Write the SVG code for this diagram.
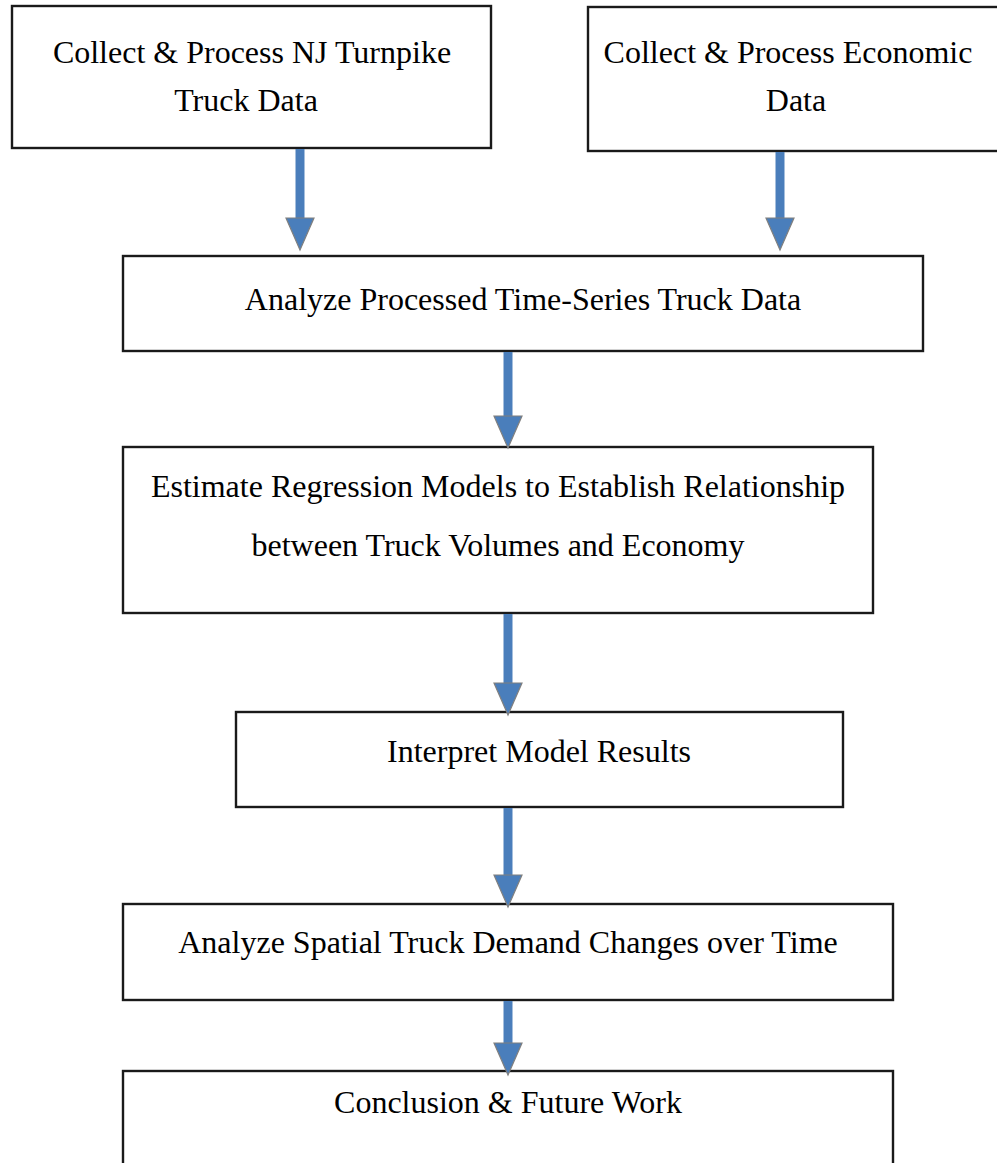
<svg xmlns="http://www.w3.org/2000/svg" xmlns:xlink="http://www.w3.org/1999/xlink" width="997" height="1163" viewBox="0 0 997 1163">
<style>
.box{fill:#ffffff;stroke:#1a1a1a;stroke-width:2.4}
.lbl{font-family:"Liberation Serif","Times New Roman",serif;font-size:32px;fill:#000000;text-anchor:middle}
.shaft{stroke:#4a7ebb;stroke-width:9;fill:none}
.ahead{fill:#4a7ebb;stroke:#7f7f7f;stroke-width:1.2;stroke-linejoin:miter}
</style>
<defs>
<path id="head" class="ahead" d="M-14,0 L14,0 L0,32 Z"/>
</defs>
<rect width="997" height="1163" fill="#ffffff"/>
<g id="n1">
<rect class="box" x="12" y="6" width="479" height="142"/>
<text class="lbl" x="252" y="63">Collect &amp; Process NJ Turnpike</text>
<text class="lbl" x="246" y="111">Truck Data</text>
</g>
<g id="n2">
<rect class="box" x="588" y="7" width="420" height="144"/>
<text class="lbl" x="788" y="63">Collect &amp; Process Economic</text>
<text class="lbl" x="796" y="111">Data</text>
</g>
<g id="n3">
<rect class="box" x="123" y="256" width="800" height="95"/>
<text class="lbl" x="523" y="310">Analyze Processed Time-Series Truck Data</text>
</g>
<g id="n4">
<rect class="box" x="123" y="447" width="750" height="166"/>
<text class="lbl" x="498" y="497">Estimate Regression Models to Establish Relationship</text>
<text class="lbl" x="498" y="556">between Truck Volumes and Economy</text>
</g>
<g id="n5">
<rect class="box" x="236" y="712" width="607" height="95"/>
<text class="lbl" x="539" y="762">Interpret Model Results</text>
</g>
<g id="n6">
<rect class="box" x="123" y="904" width="770" height="96"/>
<text class="lbl" x="508" y="953">Analyze Spatial Truck Demand Changes over Time</text>
</g>
<g id="n7">
<rect class="box" x="123" y="1071" width="770" height="120"/>
<text class="lbl" x="508" y="1113">Conclusion &amp; Future Work</text>
</g>
<g id="connectors">
<line class="shaft" x1="300" y1="149" x2="300" y2="219"/>
<use xlink:href="#head" href="#head" x="300" y="218"/>
<line class="shaft" x1="780" y1="152" x2="780" y2="219"/>
<use xlink:href="#head" href="#head" x="780" y="218"/>
<line class="shaft" x1="508" y1="352" x2="508" y2="417"/>
<use xlink:href="#head" href="#head" x="508" y="416"/>
<line class="shaft" x1="508" y1="614" x2="508" y2="684"/>
<use xlink:href="#head" href="#head" x="508" y="683"/>
<line class="shaft" x1="508" y1="808" x2="508" y2="876"/>
<use xlink:href="#head" href="#head" x="508" y="875"/>
<line class="shaft" x1="508" y1="1001" x2="508" y2="1044"/>
<use xlink:href="#head" href="#head" x="508" y="1043"/>
</g>
</svg>
